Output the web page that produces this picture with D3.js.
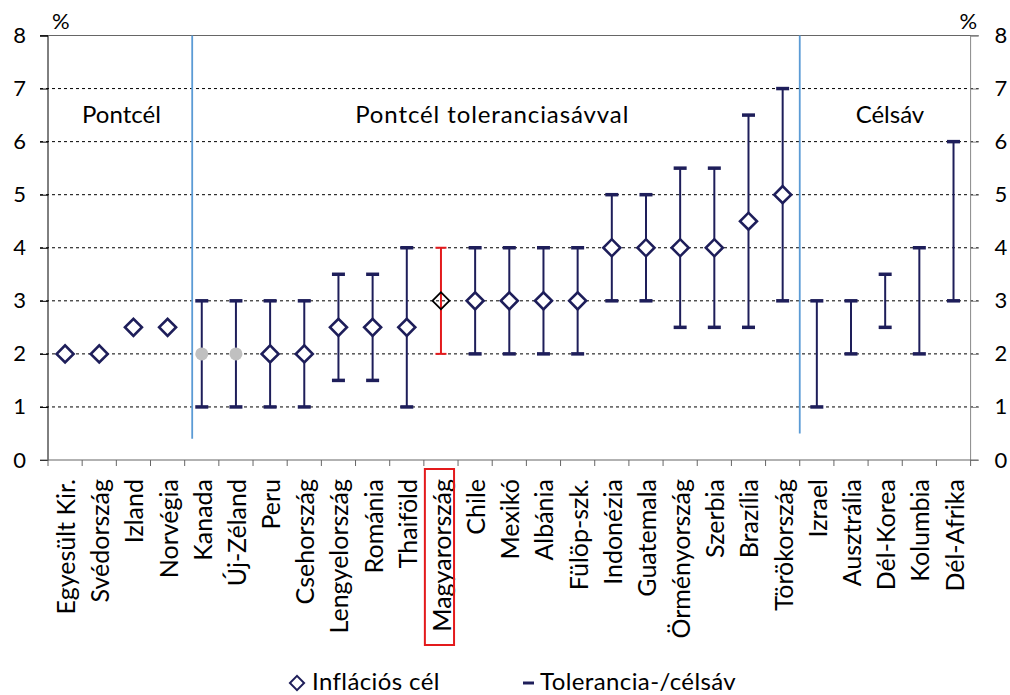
<!DOCTYPE html>
<html><head><meta charset="utf-8">
<script src="https://cdn.jsdelivr.net/npm/d3@7"></script>
<style>body{margin:0;background:#fff} text{font-family:Lato,"Open Sans",sans-serif;fill:#000}</style>
</head><body><svg id="c" width="1010" height="695"></svg>
<script>
const categories = ["Egyesült Kir.","Svédország","Izland","Norvégia","Kanada","Új-Zéland","Peru","Csehország","Lengyelország","Románia","Thaiföld","Magyarország","Chile","Mexikó","Albánia","Fülöp-szk.","Indonézia","Guatemala","Örményország","Szerbia","Brazília","Törökország","Izrael","Ausztrália","Dél-Korea","Kolumbia","Dél-Afrika"];
const targets  = [2,2,2.5,2.5,2,2,2,2,2.5,2.5,2.5,3,3,3,3,3,4,4,4,4,4.5,5,null,null,null,null,null];
const bandLow  = [null,null,null,null,1,1,1,1,1.5,1.5,1,2,2,2,2,2,3,3,2.5,2.5,2.5,3,1,2,2.5,2,3];
const bandHigh = [null,null,null,null,3,3,3,3,3.5,3.5,4,4,4,4,4,4,5,5,5.5,5.5,6.5,7,3,3,3.5,4,6];
const greyTargets = ["Kanada","Új-Zéland"];
const highlighted = "Magyarország";
const yTicks = [0,1,2,3,4,5,6,7,8];
const sectionLabels = ["Pontcél","Pontcél toleranciasávval","Célsáv"];
const sectionLabelPos = [2.15,13.0,24.64];
const dividerPos = [4.22,22.0];
const dividerBottoms = [0.4,0.5];
const legendLabels = ["Inflációs cél","Tolerancia-/célsáv"];

const navy = "#1e1e5a", red = "#e31a1c", blue = "#5b9bd5";
const svg = d3.select("#c");
const L = 48, R = 970.6, T = 35.5, B = 460;
const x = d3.scaleBand().domain(categories).range([L,R]).padding(0);
const xi = d3.scaleLinear().domain([0,categories.length]).range([L,R]);
const y = d3.scaleLinear().domain([0,8]).range([B,T]);

// grid
svg.append("g").selectAll("line").data(yTicks.filter(v=>v>0&&v<8)).join("line")
  .attr("x1",L-8).attr("x2",R+8).attr("y1",d=>y(d)).attr("y2",d=>y(d))
  .attr("stroke","#000").attr("stroke-width",1).attr("stroke-dasharray","3,3");
svg.append("line").attr("x1",L-8).attr("x2",R+8).attr("y1",y(8)).attr("y2",y(8)).attr("stroke","#666").attr("stroke-width",1);

// axes
const yl = svg.append("g").attr("transform",`translate(${L},0)`).call(d3.axisLeft(y).tickValues(yTicks).tickSize(8).tickFormat(d3.format("d")));
yl.select(".domain").attr("stroke","#000");
yl.selectAll(".tick line").attr("stroke","#000");
yl.selectAll("text").attr("font-size",22).attr("x",-22).style("font-family","Lato");
const yr = svg.append("g").attr("transform",`translate(${R},0)`).call(d3.axisRight(y).tickValues(yTicks).tickSize(8).tickFormat(d3.format("d")));
yr.select(".domain").attr("stroke","#888");
yr.selectAll(".tick line").attr("stroke","#888");
yr.selectAll("text").attr("font-size",22).attr("x",24).style("font-family","Lato");
svg.selectAll(".tick text").attr("fill","#000");
svg.selectAll(".domain").each(function(){d3.select(this).attr("d", d3.select(this).attr("d").replace(/M[-0-9.]+,/, "M0,").replace(/H[-0-9.]+V/, "V"));});

// x axis
const xa = svg.append("g");
xa.append("line").attr("x1",L-8).attr("x2",R+8).attr("y1",B).attr("y2",B).attr("stroke","#666").attr("stroke-width",1.2);
xa.selectAll("line.t").data(d3.range(categories.length+1)).join("line").attr("class","t")
  .attr("x1",d=>xi(d)).attr("x2",d=>xi(d)).attr("y1",B).attr("y2",B+6).attr("stroke","#666");
xa.selectAll("text").data(categories).join("text")
  .attr("transform",d=>`translate(${x(d)+x.bandwidth()/2+10},${B+19}) rotate(-90)`)
  .attr("text-anchor","end").attr("font-size",25).text(d=>d);
const hb = x(highlighted);
svg.append("rect").attr("x",hb+1).attr("y",B+9).attr("width",x.bandwidth()-5).attr("height",176)
  .attr("fill","none").attr("stroke",red).attr("stroke-width",2);

// % labels
svg.append("text").attr("x",L+4).attr("y",y(8)-7).attr("font-size",22).text("%");
svg.append("text").attr("x",R-11).attr("y",y(8)-7).attr("font-size",22).text("%");

// dividers
svg.selectAll("line.div").data(dividerBottoms).join("line").attr("class","div")
  .attr("x1",(d,i)=>xi(dividerPos[i])).attr("x2",(d,i)=>xi(dividerPos[i]))
  .attr("y1",y(8)).attr("y2",d=>y(d)).attr("stroke",blue).attr("stroke-width",1.8);

// section labels
svg.selectAll("text.sec").data(sectionLabels).join("text").attr("class","sec")
  .attr("x",(d,i)=>xi(sectionLabelPos[i])).attr("y",y(6.5))
  .attr("dy","0.35em").attr("text-anchor","middle").attr("font-size",24)
  .attr("letter-spacing",(d,i)=>i===1?"0.9px":null).text(d=>d);

// error bars
const bars = categories.map((c,i)=>({c,lo:bandLow[i],hi:bandHigh[i]})).filter(d=>d.lo!=null);
const cx = d=>x(d.c)+x.bandwidth()/2;
const eb = svg.append("g");
eb.selectAll("line.v").data(bars).join("line").attr("class","v")
  .attr("x1",cx).attr("x2",cx).attr("y1",d=>y(d.lo)).attr("y2",d=>y(d.hi))
  .attr("stroke",d=>d.c===highlighted?red:navy).attr("stroke-width",2);
["lo","hi"].forEach(k=>{
  eb.selectAll("line.c"+k).data(bars).join("line").attr("class","c"+k)
    .attr("x1",d=>cx(d)-(d.c===highlighted?5.5:6.5)).attr("x2",d=>cx(d)+(d.c===highlighted?5.5:6.5))
    .attr("y1",d=>y(d[k])).attr("y2",d=>y(d[k]))
    .attr("stroke",d=>d.c===highlighted?red:navy).attr("stroke-width",d=>d.c===highlighted?2:3.5);
});

// targets
const pts = categories.map((c,i)=>({c,v:targets[i]})).filter(d=>d.v!=null);
const sym = d3.symbol().type(d3.symbolSquare).size(144);
svg.append("g").selectAll("path").data(pts.filter(d=>!greyTargets.includes(d.c))).join("path")
  .attr("d",sym).attr("transform",d=>`translate(${cx(d)},${y(d.v)}) rotate(45)`)
  .attr("fill",d=>d.c===highlighted?"none":"#fff")
  .attr("stroke",d=>d.c===highlighted?"#000":navy).attr("stroke-width",d=>d.c===highlighted?1.8:2.6);
svg.append("g").selectAll("circle").data(pts.filter(d=>greyTargets.includes(d.c))).join("circle")
  .attr("cx",cx).attr("cy",d=>y(d.v)).attr("r",6.5).attr("fill","#c0c0c0");

// legend
const lg = svg.append("g");
lg.append("path").attr("d",d3.symbol().type(d3.symbolSquare).size(100)).attr("transform","translate(297,683) rotate(45)")
  .attr("fill","#fff").attr("stroke",navy).attr("stroke-width",2);
lg.append("text").attr("x",312).attr("y",690).attr("font-size",24).attr("letter-spacing","0.4px").text(legendLabels[0]);
lg.append("line").attr("x1",523).attr("x2",534).attr("y1",683).attr("y2",683).attr("stroke",navy).attr("stroke-width",3);
lg.append("text").attr("x",540).attr("y",690).attr("font-size",24).attr("letter-spacing","0.4px").text(legendLabels[1]);
</script></body></html>
